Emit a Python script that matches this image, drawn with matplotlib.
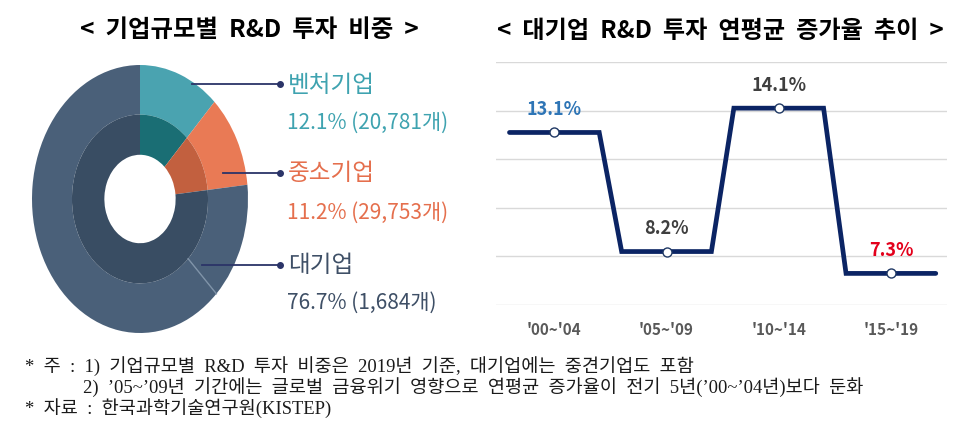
import matplotlib
matplotlib.use("Agg")
import matplotlib.pyplot as plt
import numpy as np

plt.rcParams['font.family'] = ['Noto Sans CJK KR', 'DejaVu Sans']

# ---- data ----
size_labels = ['벤처기업', '중소기업', '대기업']
size_shares = [12.1, 11.2, 76.7]
size_counts = ['20,781개', '29,753개', '1,684개']
outer_split = 14.2  # faint division inside the 대기업 outer band

periods = ["'00~'04", "'05~'09", "'10~'14", "'15~'19"]
growth = [13.1, 8.2, 14.1, 7.3]

title_left = '< 기업규모별 R&D 투자 비중 >'
title_right = '< 대기업 R&D 투자 연평균 증가율 추이 >'
notes = [
    '* 주 : 1) 기업규모별 R&D 투자 비중은 2019년 기준, 대기업에는 중견기업도 포함',
    '2) ’05~’09년 기간에는 글로벌 금융위기 영향으로 연평균 증가율이 전기 5년(’00~’04년)보다 둔화',
    '* 자료 : 한국과학기술연구원(KISTEP)',
]

# ---- style ----
W, H = 964, 437
outer_cols = ['#4AA3B0', '#E97A55', '#4A6079']
inner_cols = ['#1A6E74', '#C2603F', '#394D63']
label_cols = ['#3FA3B0', '#E56F4D', '#3E4F66']
val_cols = ['#2E75B6', '#3F3F3F', '#3F3F3F', '#E3001B']
navy = '#0B2464'


def wide(s):
    # wider word spacing as in the original typesetting
    return s.replace(' ', '  ')


fig = plt.figure(figsize=(W / 100, H / 100), dpi=100)


def fx(px):
    return px / W


def fy(py):
    return 1 - py / H


# ---- titles ----
fig.text(fx(249), fy(30), wide(title_left), ha='center', va='center',
         fontsize=17.6, fontweight='bold', color='black')
fig.text(fx(720), fy(31), wide(title_right), ha='center', va='center',
         fontsize=17.4, fontweight='bold', color='black')

# ---- donut ----
cx, cy, rx, ry = 140, 199, 108, 134
axp = fig.add_axes([fx(cx - rx), fy(cy + ry), 2 * rx / W, 2 * ry / H])
r_mid, r_in = 0.63, 0.33
outer_vals = [size_shares[0], size_shares[1], outer_split, size_shares[2] - outer_split]
outer_c = [outer_cols[0], outer_cols[1], outer_cols[2], outer_cols[2]]
axp.pie(outer_vals, colors=outer_c, startangle=90, counterclock=False,
        radius=1.0, wedgeprops=dict(width=1.0 - r_mid, linewidth=0))
axp.pie(size_shares, colors=inner_cols, startangle=90, counterclock=False,
        radius=r_mid, wedgeprops=dict(width=r_mid - r_in, linewidth=0))
ang = np.deg2rad(90 - 360 * (size_shares[0] + size_shares[1] + outer_split) / 100)
axp.plot([r_mid * np.cos(ang), np.cos(ang)], [r_mid * np.sin(ang), np.sin(ang)],
         color='#7F93A8', lw=1.0)
axp.set_aspect('auto')
axp.set_xlim(-1, 1)
axp.set_ylim(-1, 1)
axp.axis('off')

# leader lines and labels
leader_y = [84, 173, 265]
leader_x0 = [192, 223, 202]
name_y = [85, 173, 265]
val_y = [123, 213, 303]
for i in range(3):
    fig.add_artist(plt.Line2D([fx(leader_x0[i]), fx(280)], [fy(leader_y[i])] * 2,
                              color='#2B3468', lw=1.3, transform=fig.transFigure))
    fig.add_artist(plt.Line2D([fx(280)], [fy(leader_y[i])], marker='o', ms=4,
                              color='#2B3468', transform=fig.transFigure))
    fig.text(fx(288), fy(name_y[i]), size_labels[i], ha='left', va='center',
             fontsize=17, color=label_cols[i])
    fig.text(fx(287), fy(val_y[i]), f'{size_shares[i]}% ({size_counts[i]})',
             ha='left', va='center', fontsize=15, color=label_cols[i])

# ---- line chart ----
gx0, gx1, gy0, gy1 = 496, 947, 62, 305
axl = fig.add_axes([fx(gx0), fy(gy1), (gx1 - gx0) / W, (gy1 - gy0) / H])
idx = np.arange(len(growth))
half = 0.4
lx = np.ravel([[i - half, i + half] for i in idx])
ly = np.ravel([[v, v] for v in growth])
axl.plot(lx, ly, color=navy, lw=3.4, solid_capstyle='round', solid_joinstyle='miter', zorder=3)
axl.plot(idx, growth, ls='none', marker='o', ms=6.5, mfc='white', mec='#1F3864',
         mew=1.0, zorder=4)
for i, v in enumerate(growth):
    axl.annotate(f'{v}%', (i, v), xytext=(0, 16.5), textcoords='offset points',
                 ha='center', va='center', fontsize=13, fontweight='bold', color=val_cols[i])
axl.set_xlim(-0.52, 3.5)
axl.set_ylim(6, 16)
axl.set_yticks(np.arange(6, 17, 2))
axl.set_yticklabels([])
axl.set_xticks(idx)
axl.set_xticklabels(periods, fontsize=11, fontweight='bold', color='#595959')
axl.tick_params(length=0, pad=12)
axl.grid(axis='y', color='#D9D9D9', lw=1)
axl.set_axisbelow(True)
for s in axl.spines.values():
    s.set_visible(False)

# ---- notes ----
note_font = ['Liberation Serif', 'Noto Sans CJK KR']
note_x = [25, 83, 25]
note_y = [366, 387, 408]
for t, x, y in zip(notes, note_x, note_y):
    fig.text(fx(x), fy(y), wide(t), ha='left', va='center', fontsize=13.4,
             family=note_font, color='#1A1A1A')

fig.savefig('out.png', dpi=100, facecolor='white')
